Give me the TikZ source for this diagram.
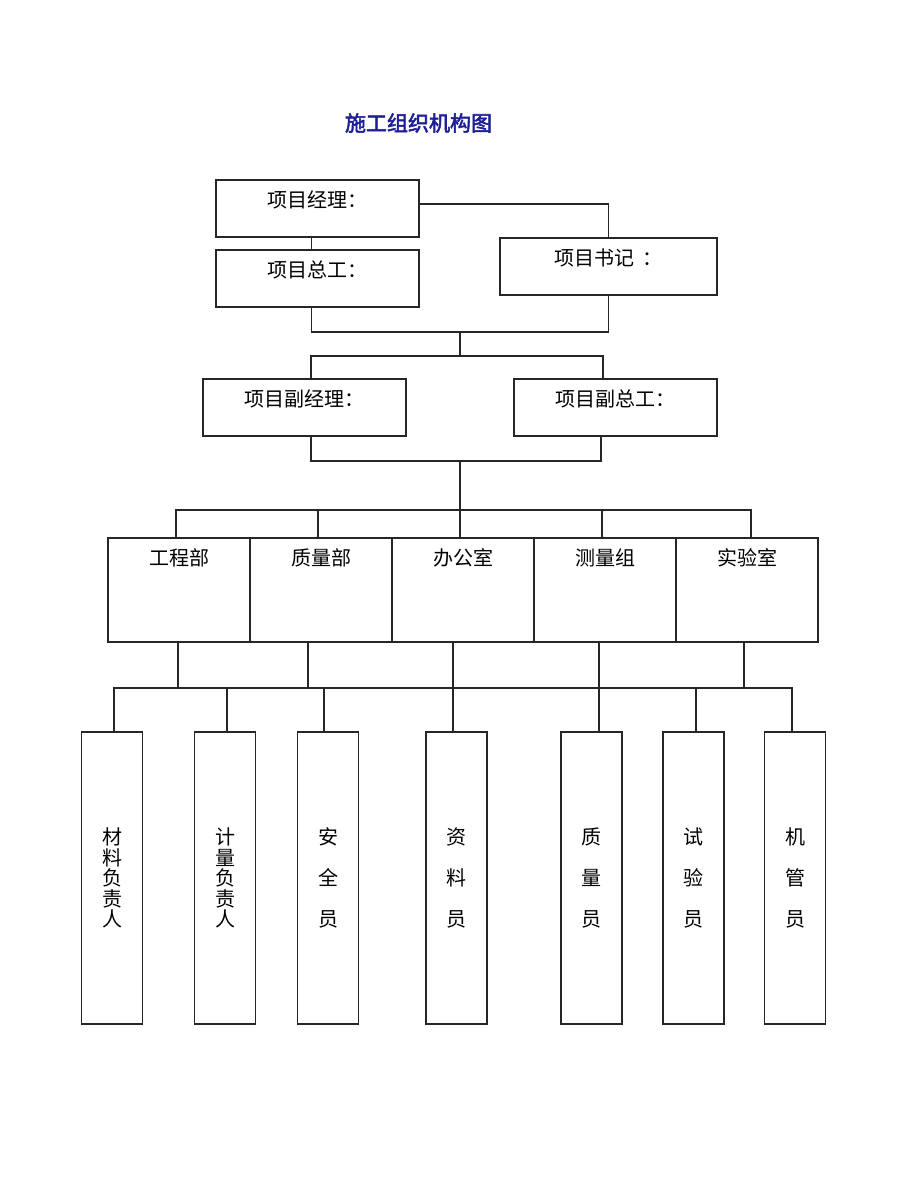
\documentclass[tikz,border=0pt]{standalone}
\usepackage{fontspec}
\usepackage{xcolor}
\newfontfamily\cjk{Noto Sans CJK SC}
\newfontfamily\cjkbf[FakeBold=2.5]{Noto Sans CJK SC}
\definecolor{TitleBlue}{RGB}{30,30,150}

\begin{document}
\begin{tikzpicture}[x=1pt,y=-1pt,line width=1.1pt,
  box/.style={draw, black!85, inner sep=0pt},
  hd/.style={inner sep=0pt, font=\cjk\fontsize{20}{20}\selectfont},
  dept/.style={box, minimum width=142pt, minimum height=104pt},
  staff/.style={box, text=black, minimum width=61pt, minimum height=292pt, align=center,
    font=\cjk\fontsize{20}{20.5}\selectfont}]
\fill[white] (0,0) rectangle (920,1191);
\useasboundingbox (0,0) rectangle (920,1191);
%
\node[font=\cjkbf\fontsize{21}{21}\selectfont, text=TitleBlue] (title) at (418.5,123) {施工组织机构图};
%
\node[box, minimum width=203pt, minimum height=57pt] (jl) at (317.5,208.5) {};
\node[hd] (jlt) at ([yshift=-20pt]jl.north) {项目经理：};
\node[box, minimum width=203pt, minimum height=57pt] (zg) at (317.5,278.5) {};
\node[hd] (zgt) at ([yshift=-20pt]zg.north) {项目总工：};
\node[box, minimum width=217pt, minimum height=57pt] (sj) at (608.5,266.5) {};
\node[hd] (sjt) at ([yshift=-20pt]sj.north) {项目书记\ \ ：};
%
\node[box, minimum width=203pt, minimum height=57pt] (fjl) at (304.5,407.5) {};
\node[hd] (fjlt) at ([yshift=-20pt]fjl.north) {项目副经理：};
\node[box, minimum width=203pt, minimum height=57pt] (fzg) at (615.5,407.5) {};
\node[hd] (fzgt) at ([yshift=-20pt]fzg.north) {项目副总工：};
%
\node[dept] (d1) at (179,590) {};
\node[dept] (d2) at (321,590) {};
\node[dept] (d3) at (463,590) {};
\node[dept] (d4) at (605,590) {};
\node[dept] (d5) at (747,590) {};
\node[hd] (d1t) at ([yshift=-20pt]d1.north) {工程部};
\node[hd] (d2t) at ([yshift=-20pt]d2.north) {质量部};
\node[hd] (d3t) at ([yshift=-20pt]d3.north) {办公室};
\node[hd] (d4t) at ([yshift=-20pt]d4.north) {测量组};
\node[hd] (d5t) at ([yshift=-20pt]d5.north) {实验室};
%
\node[staff] (s1) at (112,878) {材\\料\\负\\责\\人};
\node[staff] (s2) at (225,878) {计\\量\\负\\责\\人};
\node[staff] (s3) at (328,878) {安\\[20.5pt]全\\[20.5pt]员};
\node[staff] (s4) at (456.5,878) {资\\[20.5pt]料\\[20.5pt]员};
\node[staff] (s5) at (591.5,878) {质\\[20.5pt]量\\[20.5pt]员};
\node[staff] (s6) at (693.5,878) {试\\[20.5pt]验\\[20.5pt]员};
\node[staff] (s7) at (795,878) {机\\[20.5pt]管\\[20.5pt]员};
%
\coordinate (m1) at (460,332);
\coordinate (m2) at (460,356);
\coordinate (m3) at (460,461);
\coordinate (m4) at (460,510);
\coordinate (b) at (453,688);
%
\begin{scope}[black!85]
\draw ([xshift=-6pt]jl.south) -- ([xshift=-6pt]zg.north);
\draw ([yshift=4.5pt]jl.east) -| (sj.north);
\draw ([xshift=-6pt]zg.south) |- (m1) -| (sj.south);
\draw (m1) -- (m2);
\draw ([xshift=6.5pt]fjl.north) |- (m2) -| ([xshift=-12.5pt]fzg.north);
\draw ([xshift=6.5pt]fjl.south) |- (m3) -| ([xshift=-14.5pt]fzg.south);
\draw (m3) -- ([xshift=-3pt]d3.north);
%
\draw ([xshift=-3pt]d1.north) |- (m4) -| ([xshift=4pt]d5.north);
\draw ([xshift=-3pt]d2.north) |- (m4);
\draw ([xshift=-3pt]d4.north) |- (m4);
%
\draw ([xshift=-10pt]d3.south) -- ([xshift=-3.5pt]s4.north);
\draw ([xshift=-6pt]d4.south) -- ([xshift=7.5pt]s5.north);
\draw ([xshift=2pt]s1.north) |- (b) -| ([xshift=-3pt]s7.north);
\draw ([xshift=-1pt]d1.south) |- (b);
\draw ([xshift=-13pt]d2.south) |- (b);
\draw ([xshift=-3pt]d5.south) |- (b);
\draw ([xshift=2pt]s2.north) |- (b);
\draw ([xshift=-4pt]s3.north) |- (b);
\draw ([xshift=2.5pt]s6.north) |- (b);
\end{scope}
\end{tikzpicture}
\end{document}
